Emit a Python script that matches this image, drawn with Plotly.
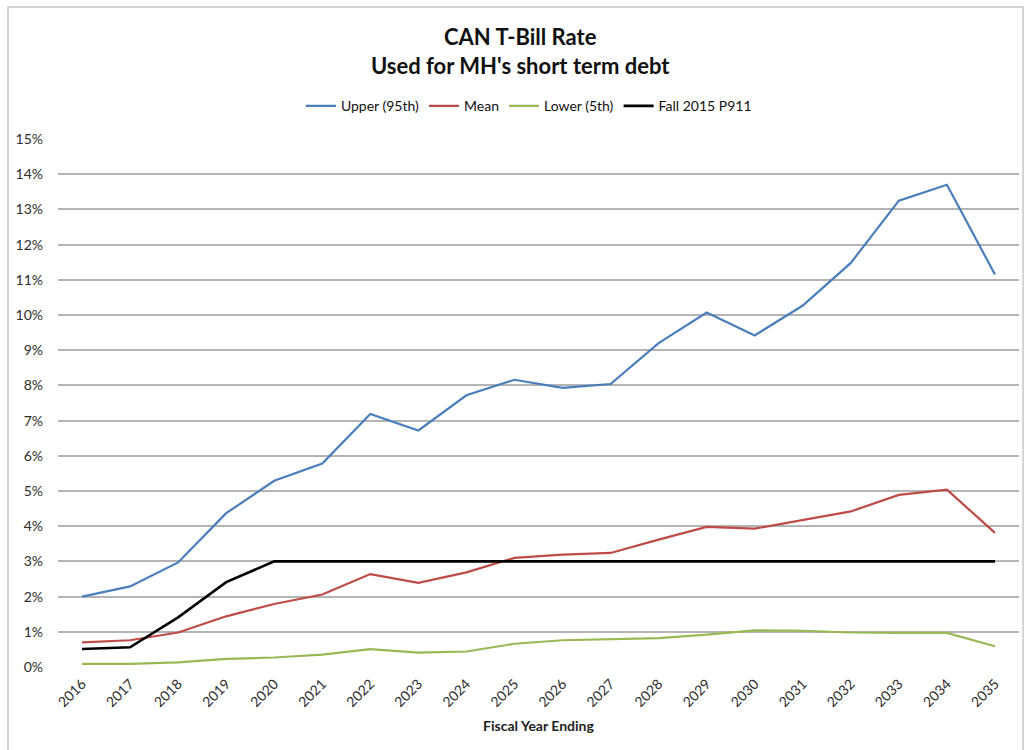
import plotly.graph_objects as go

# Fiscal years and rate scenarios (percent)
years = [str(y) for y in range(2016, 2036)]
upper_95 = [2.00, 2.29, 2.97, 4.37, 5.29, 5.78, 7.19, 6.72, 7.72, 8.16,
            7.93, 8.04, 9.20, 10.07, 9.42, 10.27, 11.48, 13.25, 13.70, 11.15]
mean_rate = [0.70, 0.76, 0.98, 1.44, 1.79, 2.06, 2.64, 2.39, 2.69, 3.10,
             3.19, 3.24, 3.62, 3.98, 3.93, 4.18, 4.42, 4.89, 5.04, 3.81]
lower_5 = [0.09, 0.09, 0.13, 0.23, 0.27, 0.35, 0.51, 0.41, 0.44, 0.66,
           0.76, 0.79, 0.82, 0.92, 1.04, 1.03, 0.98, 0.97, 0.97, 0.59]
fall_2015 = [0.51, 0.56, 1.41, 2.41, 3.00, 3.00, 3.00, 3.00, 3.00, 3.00,
             3.00, 3.00, 3.00, 3.00, 3.00, 3.00, 3.00, 3.00, 3.00, 3.00]

series = [
    ("Upper (95th)", upper_95, "#4a7ebb", 2.2),
    ("Mean", mean_rate, "#be4b48", 2.2),
    ("Lower (5th)", lower_5, "#98b954", 2.2),
    ("Fall 2015 P911", fall_2015, "#000000", 2.6),
]

fig = go.Figure()
for name, vals, color, w in series:
    fig.add_trace(go.Scatter(
        x=years, y=[v / 100 for v in vals], name=name, mode="lines",
        line=dict(color=color, width=w),
    ))

font_family = "Lato, Carlito, Calibri, sans-serif"

fig.update_layout(
    width=1026, height=750,
    paper_bgcolor="white", plot_bgcolor="white",
    margin=dict(l=58, r=7, t=139, b=83),
    font=dict(family=font_family, color="#333333", size=12),
    title=dict(
        text="<b>CAN T-Bill Rate<br>Used for MH's short term debt</b>",
        x=0.507, xanchor="center", y=0.94, yanchor="top",
        font=dict(size=22, color="#111111", family=font_family),
    ),
    legend=dict(
        orientation="h", x=0.49, xanchor="center", y=1.062, yanchor="middle",
        font=dict(size=14, color="#111111"), itemwidth=30,
        bgcolor="rgba(0,0,0,0)",
    ),
    showlegend=True,
)

fig.update_xaxes(
    type="category", range=[-0.5, 19.5], tickangle=-45, showgrid=False,
    showline=False, ticks="", tickfont=dict(size=14, color="#2e2e2e"),
    ticklabelstandoff=5,
    title=dict(text="<b>Fiscal Year Ending</b>", font=dict(size=14, color="#222222"),
               standoff=12),
)
fig.update_yaxes(
    range=[0, 0.15], dtick=0.01, tickformat=".0%", showgrid=True,
    gridcolor="#b4b4b4", gridwidth=1.5, zeroline=False, showline=False,
    ticks="", tickfont=dict(size=14, color="#2e2e2e"), ticklabelstandoff=14,
)

# Outer chart frame
fig.add_shape(type="rect", xref="paper", yref="paper",
              x0=-50 / 961, x1=(1023 - 58) / 961, y0=-90 / 528, y1=1 + 132 / 528,
              line=dict(color="#c8c8c8", width=1.5), layer="below")

fig.write_html("out.html")
